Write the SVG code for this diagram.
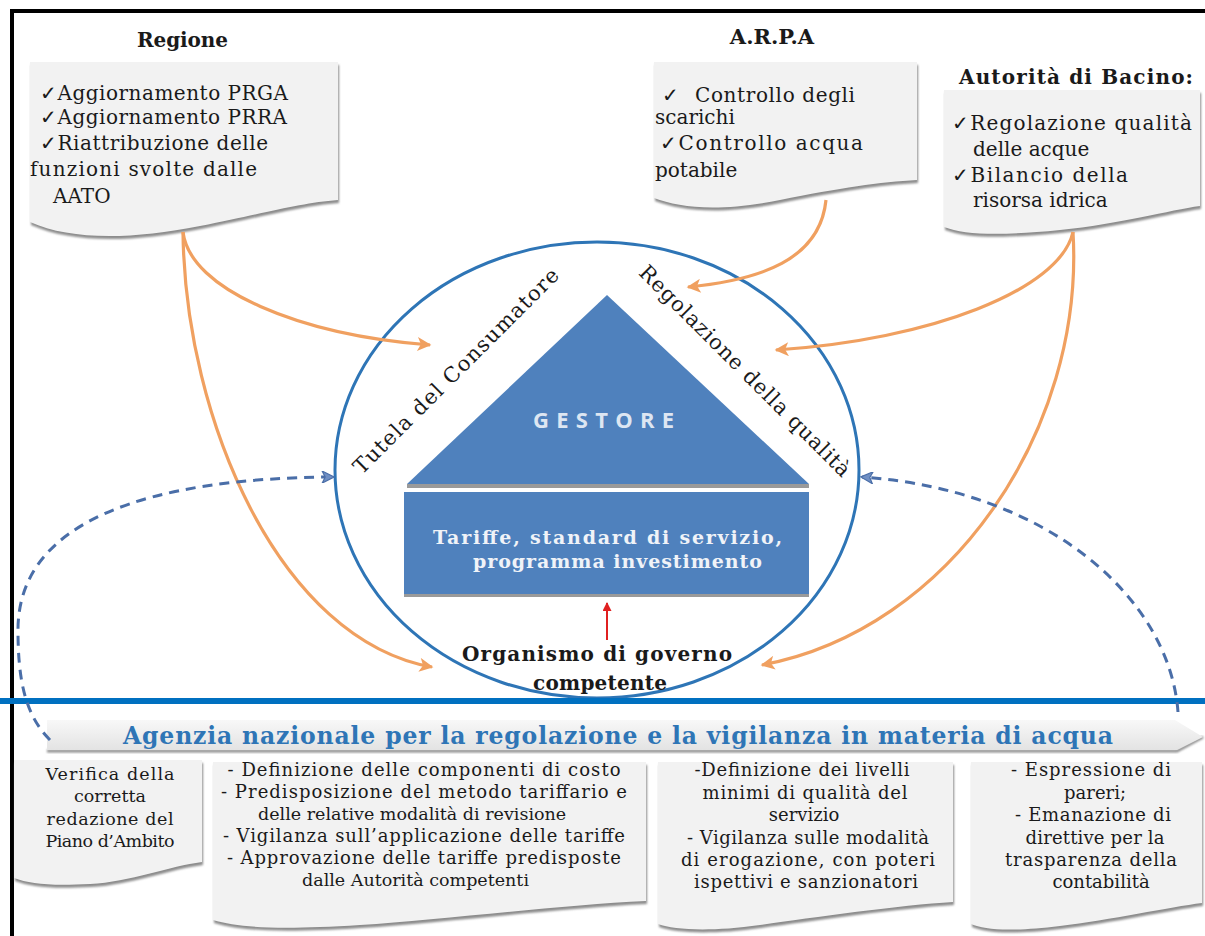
<svg xmlns="http://www.w3.org/2000/svg" width="1205" height="936" viewBox="0 0 1205 936">
<defs>
<style>
.s{font-family:"DejaVu Serif","Liberation Serif",serif;fill:#1a1a1a}
.r20{font-size:20px}
.b20{font-size:20px;font-weight:bold}
.r17{font-size:17.5px}
.r18{font-size:18px}
.doc{fill:#F2F2F2}
.sh{fill:#8C8C8C}
.or{fill:none;stroke:#F0A060;stroke-width:3.2}
.bd{fill:none;stroke:#4A6EA8;stroke-width:3;stroke-dasharray:10 7}
.blue{fill:#4F81BD}
</style>
<filter id="blur" x="-5%" y="-10%" width="110%" height="130%"><feGaussianBlur stdDeviation="1.3"/></filter>
<linearGradient id="bg" x1="0" y1="0" x2="0" y2="1"><stop offset="0" stop-color="#F8F8F8"/><stop offset="1" stop-color="#E3E3E3"/></linearGradient>
<marker id="ao" viewBox="0 0 10 10" refX="9" refY="5" markerUnits="userSpaceOnUse" markerWidth="16" markerHeight="14" orient="auto"><path d="M0,0 L10,5 L0,10 L2.5,5 Z" fill="#F0A060"/></marker>
<marker id="ab" viewBox="0 0 10 10" refX="9" refY="5" markerUnits="userSpaceOnUse" markerWidth="14" markerHeight="12" orient="auto"><path d="M0,0 L10,5 L0,10 L2.5,5 Z" fill="#6F8FC4" stroke="#4A6EA8" stroke-width="1"/></marker>
<marker id="ar" viewBox="0 0 10 10" refX="9" refY="5" markerUnits="userSpaceOnUse" markerWidth="10" markerHeight="9" orient="auto"><path d="M0,0 L10,5 L0,10 Z" fill="#E02020"/></marker>
</defs>
<rect width="1205" height="936" fill="#FFFFFF"/>
<!-- frame -->
<rect x="10" y="9" width="1195" height="4" fill="#000"/>
<rect x="10" y="9" width="4" height="927" fill="#000"/>

<!-- Regione -->
<g id="regione">
<text class="s b20" x="137" y="47" textLength="91">Regione</text>
<path class="sh" filter="url(#blur)" transform="translate(1,3)" d="M30,62 H338 V200 C300,203 270,212 200,226 C130,240 70,240 30,222 Z"/>
<path class="doc" d="M30,62 H338 V200 C300,203 270,212 200,226 C130,240 70,240 30,222 Z"/>
<text class="s r20" x="40" y="100" textLength="248">✓Aggiornamento PRGA</text>
<text class="s r20" x="40" y="124" textLength="247">✓Aggiornamento PRRA</text>
<text class="s r20" x="40" y="150" textLength="228">✓Riattribuzione delle</text>
<text class="s r20" x="30" y="176" textLength="227">funzioni svolte dalle</text>
<text class="s r20" x="53" y="203">AATO</text>
</g>

<!-- ARPA -->
<g id="arpa">
<text class="s" x="772" y="44" text-anchor="middle" style="font-size:21px;font-weight:bold">A.R.P.A</text>
<path class="sh" filter="url(#blur)" transform="translate(1,3)" d="M654,62 H917 V180 C880,182 840,188 780,200 C720,212 680,208 654,198 Z"/>
<path class="doc" d="M654,62 H917 V180 C880,182 840,188 780,200 C720,212 680,208 654,198 Z"/>
<text class="s r20" x="662" y="102">✓</text>
<text class="s r20" x="695" y="102" textLength="160">Controllo degli</text>
<text class="s r20" x="655" y="124">scarichi</text>
<text class="s r20" x="660" y="150" textLength="203">✓Controllo acqua</text>
<text class="s r20" x="655" y="177">potabile</text>
</g>

<!-- Autorita di Bacino -->
<g id="autorita">
<text class="s b20" x="959" y="84" textLength="234">Autorità di Bacino:</text>
<path class="sh" filter="url(#blur)" transform="translate(1,3)" d="M944,90 H1200 V206 C1170,210 1120,224 1060,230 C1000,236 965,235 944,227 Z"/>
<path class="doc" d="M944,90 H1200 V206 C1170,210 1120,224 1060,230 C1000,236 965,235 944,227 Z"/>
<text class="s r20" x="952" y="130" textLength="240">✓Regolazione qualità</text>
<text class="s r20" x="973" y="156">delle acque</text>
<text class="s r20" x="952" y="182" textLength="176">✓Bilancio della</text>
<text class="s r20" x="973" y="207">risorsa idrica</text>
</g>

<!-- central circle with gestore -->
<g id="gestore">
<ellipse cx="597" cy="470" rx="262" ry="228" fill="none" stroke="#2E75B6" stroke-width="3"/>
<path class="blue" d="M607,295 L809,484 L407,484 Z"/>
<rect x="407" y="484" width="402" height="4" fill="#9A9A9A"/>
<text x="533" y="428" textLength="141" style="font-family:'Open Sans','Liberation Sans',sans-serif;font-size:22px;font-weight:bold;fill:#DDE6F2">GESTORE</text>
<text class="s" x="461" y="376" text-anchor="middle" textLength="281" transform="rotate(-45 461 376)" style="font-size:21px">Tutela del Consumatore</text>
<text class="s" x="740" y="376" text-anchor="middle" textLength="289" transform="rotate(45 740 376)" style="font-size:21px">Regolazione della qualità</text>
</g>

<g id="tariffe">
<rect x="404" y="492" width="405" height="102" class="blue"/>
<rect x="404" y="594" width="405" height="3" fill="#9A9A9A"/>
<text class="s" x="433" y="544" textLength="349" style="font-size:19px;font-weight:bold;fill:#F0F3F8">Tariffe, standard di servizio,</text>
<text class="s" x="473" y="568" textLength="289" style="font-size:19px;font-weight:bold;fill:#F0F3F8">programma investimento</text>
</g>

<g id="organismo">
<text class="s" x="462" y="661" textLength="270" style="font-size:20px;font-weight:bold">Organismo di governo</text>
<text class="s" x="533" y="690" textLength="134" style="font-size:20px;font-weight:bold">competente</text>
</g>

<!-- blue rule -->
<rect x="0" y="698" width="1205" height="6" fill="#0070C0"/>

<!-- banner -->
<g id="agenzia">
<path d="M47,751 H1177 L1203,737" fill="none" stroke="#8C8C8C" stroke-width="3" filter="url(#blur)"/>
<path d="M47,720 H1175 L1203,737 L1177,750 H47 Z" fill="url(#bg)"/>
<text class="s" x="123" y="744" textLength="990" style="font-size:23.5px;font-weight:bold;fill:#2E75B6">Agenzia nazionale per la regolazione e la vigilanza in materia di acqua</text>
</g>

<!-- bottom boxes -->
<g id="box-piano">
<path class="sh" filter="url(#blur)" transform="translate(1,3)" d="M14,760 H202 V862 C170,866 130,882 90,884 C50,886 30,884 14,878 Z"/>
<path class="doc" d="M14,760 H202 V862 C170,866 130,882 90,884 C50,886 30,884 14,878 Z"/>
<text class="s r17" x="110" y="780" text-anchor="middle" textLength="129">Verifica della</text>
<text class="s r17" x="110" y="802" text-anchor="middle">corretta</text>
<text class="s r17" x="110" y="825" text-anchor="middle" textLength="127">redazione del</text>
<text class="s r17" x="110" y="847" text-anchor="middle" textLength="129">Piano d’Ambito</text>
</g>

<g id="box-tariffe">
<path class="sh" filter="url(#blur)" transform="translate(1,3)" d="M213,762 H646 V901 C560,905 440,920 360,925 C280,930 240,928 213,920 Z"/>
<path class="doc" d="M213,762 H646 V901 C560,905 440,920 360,925 C280,930 240,928 213,920 Z"/>
<text class="s r18" x="424" y="776" text-anchor="middle" textLength="393">- Definizione delle componenti di costo</text>
<text class="s r18" x="424" y="798" text-anchor="middle" textLength="406">- Predisposizione del metodo tariffario e</text>
<text class="s r17" x="258" y="820">delle relative modalità di revisione</text>
<text class="s r18" x="424" y="842" text-anchor="middle" textLength="402">- Vigilanza sull’applicazione delle tariffe</text>
<text class="s r18" x="424" y="864" text-anchor="middle" textLength="394">- Approvazione delle tariffe predisposte</text>
<text class="s r17" x="302" y="886">dalle Autorità competenti</text>
</g>

<g id="box-qualita">
<path class="sh" filter="url(#blur)" transform="translate(1,3)" d="M658,762 H953 V902 C900,905 810,918 760,925 C710,932 675,930 658,924 Z"/>
<path class="doc" d="M658,762 H953 V902 C900,905 810,918 760,925 C710,932 675,930 658,924 Z"/>
<text class="s r18" x="802" y="776" text-anchor="middle" textLength="215">-Definizione dei livelli</text>
<text class="s r18" x="805" y="799" text-anchor="middle" textLength="205">minimi di qualità del</text>
<text class="s r18" x="804" y="821" text-anchor="middle">servizio</text>
<text class="s r18" x="808" y="844" text-anchor="middle" textLength="242">- Vigilanza sulle modalità</text>
<text class="s r18" x="808" y="866" text-anchor="middle" textLength="254">di erogazione, con poteri</text>
<text class="s r18" x="806" y="888" text-anchor="middle" textLength="224">ispettivi e sanzionatori</text>
</g>

<g id="box-pareri">
<path class="sh" filter="url(#blur)" transform="translate(1,3)" d="M971,762 H1202 V903 C1170,907 1110,920 1060,926 C1010,932 985,930 971,924 Z"/>
<path class="doc" d="M971,762 H1202 V903 C1170,907 1110,920 1060,926 C1010,932 985,930 971,924 Z"/>
<text class="s r18" x="1091" y="776" text-anchor="middle" textLength="160">- Espressione di</text>
<text class="s r18" x="1095" y="799" text-anchor="middle">pareri;</text>
<text class="s r18" x="1093" y="821" text-anchor="middle" textLength="156">- Emanazione di</text>
<text class="s r18" x="1095" y="844" text-anchor="middle" textLength="139">direttive per la</text>
<text class="s r18" x="1091" y="866" text-anchor="middle" textLength="172">trasparenza della</text>
<text class="s r18" x="1101" y="888" text-anchor="middle">contabilità</text>
</g>

<!-- connectors -->
<g id="connectors">
<path class="or" marker-end="url(#ao)" d="M183,232 C190,290 300,335 430,345"/>
<path class="or" marker-end="url(#ao)" d="M183,232 C185,420 280,640 432,667"/>
<path class="or" marker-end="url(#ao)" d="M826,200 C820,260 760,280 688,287"/>
<path class="or" marker-end="url(#ao)" d="M1073,232 C1060,290 930,340 776,350"/>
<path class="or" marker-end="url(#ao)" d="M1073,232 C1085,430 950,630 762,665"/>
<path class="bd" marker-end="url(#ab)" d="M50,740 C25,715 18,680 18,630 C18,520 150,478 333,477"/>
<path class="bd" marker-end="url(#ab)" d="M1178,712 C1170,600 1050,490 862,477"/>
<path d="M607,640 V603" fill="none" stroke="#E02020" stroke-width="2" marker-end="url(#ar)"/>
</g>
</svg>
